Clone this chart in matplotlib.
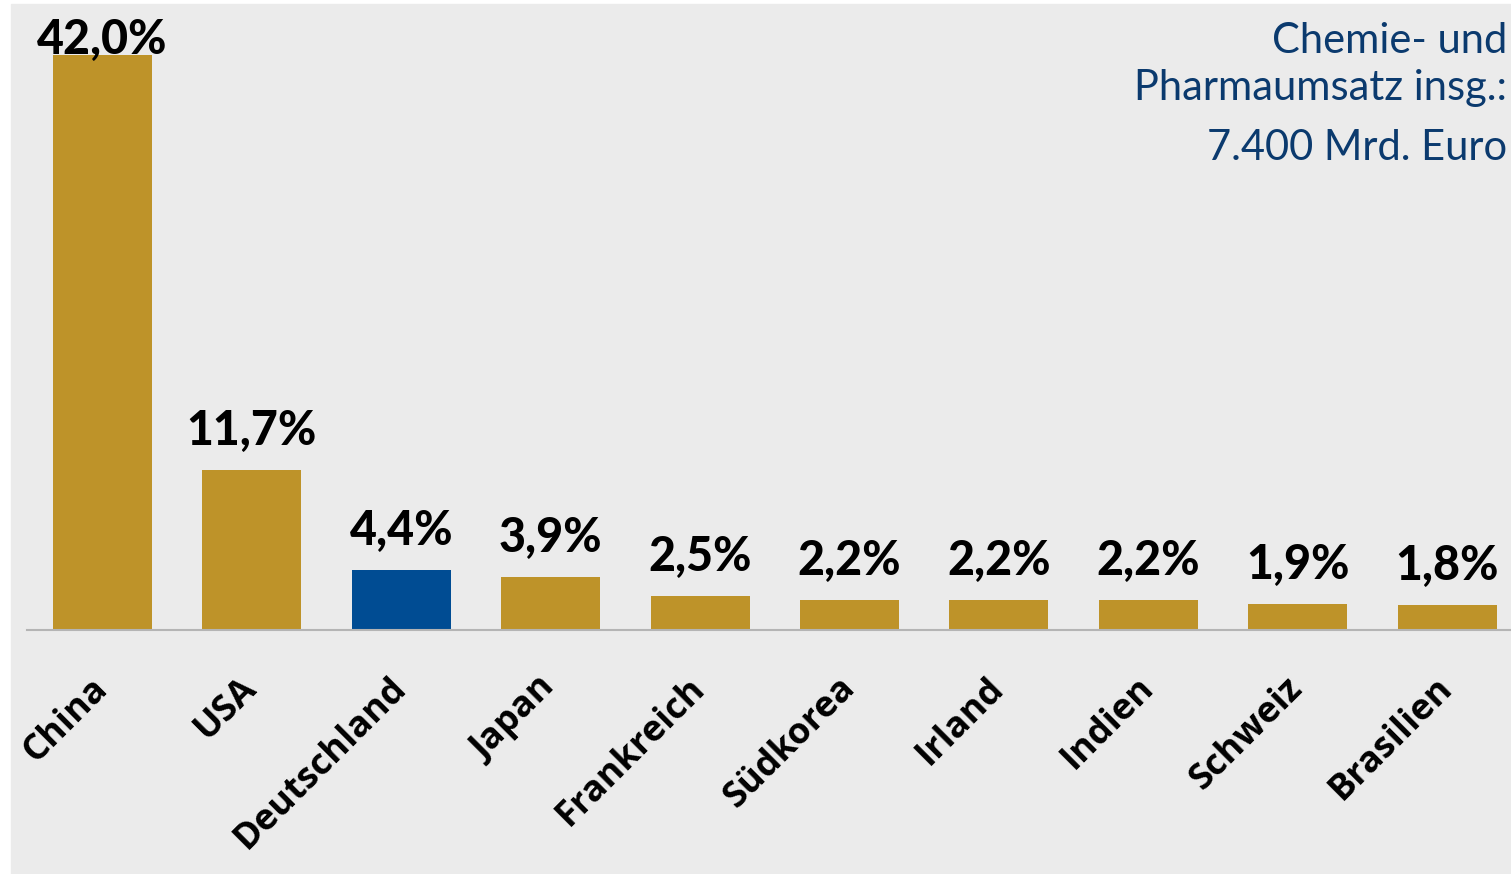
import matplotlib
matplotlib.use("Agg")
import matplotlib.pyplot as plt
from matplotlib.patches import Rectangle

laender = ["China", "USA", "Deutschland", "Japan", "Frankreich", "Südkorea",
           "Irland", "Indien", "Schweiz", "Brasilien"]
anteile = [42.0, 11.7, 4.4, 3.9, 2.5, 2.2, 2.2, 2.2, 1.9, 1.8]
beschriftung = ["42,0%", "11,7%", "4,4%", "3,9%", "2,5%", "2,2%", "2,2%",
                "2,2%", "1,9%", "1,8%"]
hervorheben = "Deutschland"

gold = "#BE9329"
blau = "#004C93"
navy = "#0B3A6E"
grau = "#EBEBEB"

W, H = 1511, 874
fig = plt.figure(figsize=(W / 100, H / 100), dpi=100)
fig.patch.set_facecolor("white")
fig.patches.append(Rectangle((11 / W, 0), 1 - 11 / W, 1 - 4 / H,
                             transform=fig.transFigure, color=grau, zorder=-5))

unten = (H - 630) / H
ax = fig.add_axes([27 / W, unten, 1 - 27 / W, 1 - 4 / H - unten])
ax.set_facecolor("none")

px_pro_einheit = 149.4
ax.set_xlim(-(102.5 - 27) / px_pro_einheit, (W - 102.5) / px_pro_einheit)
ax.set_ylim(0, (630 - 4) / 13.69)

farben = [blau if l == hervorheben else gold for l in laender]
x = range(len(laender))
ax.bar(x, anteile, width=0.663, color=farben, zorder=2)

# Werte ueber den Balken, China oben angestossen
obergrenze = (630 - 54) / 13.69
for xi, v, t in zip(x, anteile, beschriftung):
    y = min(v + 25 / 13.69, obergrenze)
    ax.text(xi, y, t, ha="center", va="baseline", fontsize=33.5,
            fontweight="black", family="Lato", color="black", zorder=3)

for s in ["top", "right", "left"]:
    ax.spines[s].set_visible(False)
ax.spines["bottom"].set_color("#B4B4B4")
ax.spines["bottom"].set_linewidth(1.5)
ax.set_yticks([])
ax.set_xticks(list(x))
ax.set_xticklabels(laender, rotation=45, ha="right", va="center",
                   rotation_mode="anchor", fontsize=26, fontweight="bold",
                   family="Open Sans")
ax.tick_params(axis="x", length=0, pad=38)

fig.text(1507 / W, 1 - 100 / H, "Chemie- und\nPharmaumsatz insg.:",
         ha="right", va="baseline", fontsize=30, family="Lato", color=navy,
         linespacing=1.3)
fig.text(1507 / W, 1 - 160 / H, "7.400 Mrd. Euro", ha="right",
         va="baseline", fontsize=30, family="Lato", color=navy)

fig.savefig("out.png", dpi=100)
